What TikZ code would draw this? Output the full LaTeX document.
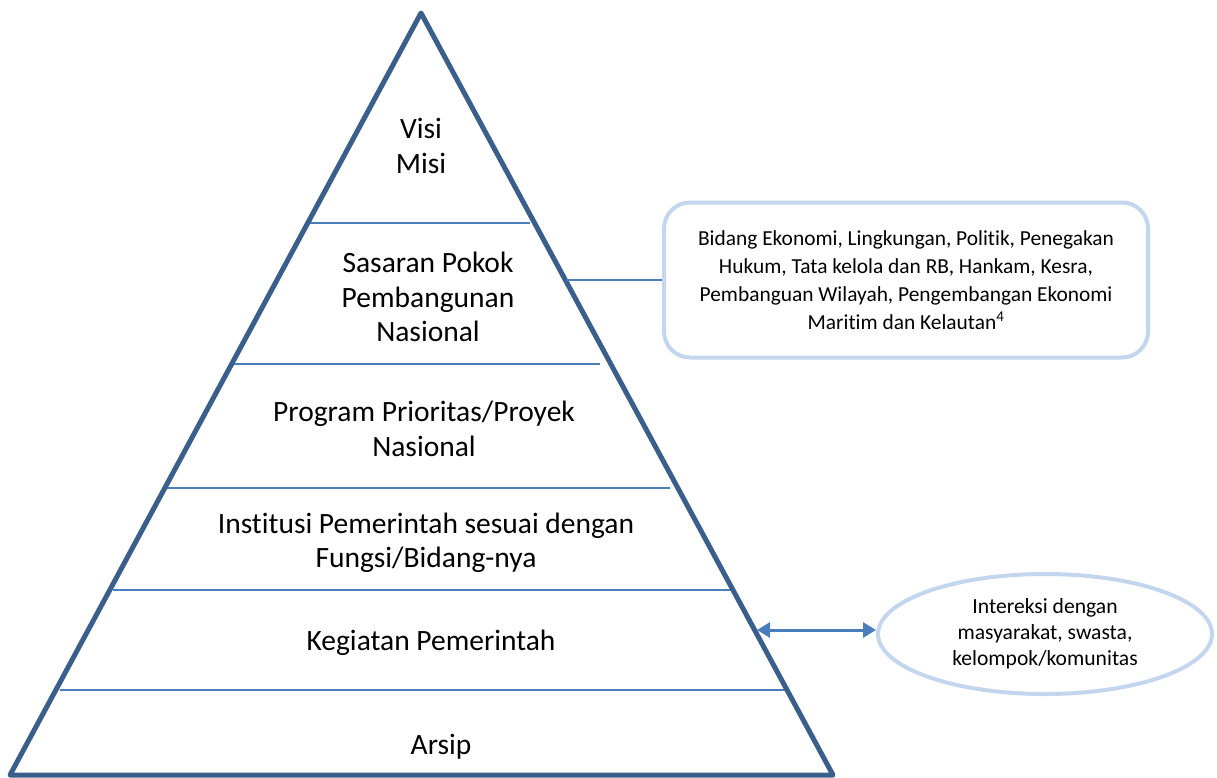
\documentclass[tikz,border=0pt]{standalone}
\usepackage{fontspec}
\setmainfont{Carlito}[RawFeature={-liga;-clig;-dlig;-calt}]
\usetikzlibrary{shapes.geometric,arrows.meta,calc}
\definecolor{pyrblue}{HTML}{3A5F8B}
\definecolor{tierblue}{HTML}{4A7EBB}
\definecolor{paleblue}{HTML}{C3D6EE}
\tikzset{
  pyramid/.style={draw=pyrblue,line width=5pt,line join=round},
  tier/.style={draw=tierblue,line width=2pt},
  tiertext/.style={align=center,font=\fontsize{29.5}{34.5}\selectfont,inner sep=0pt},
  notebox/.style={draw=paleblue,line width=4pt,rounded corners=26pt,
    minimum width=484pt,minimum height=155pt,align=center,
    font=\fontsize{21.4}{28}\selectfont},
  noteoval/.style={ellipse,draw=paleblue,line width=4pt,
    minimum width=334pt,minimum height=120pt,inner sep=0pt,align=center,
    font=\fontsize{21.6}{26}\selectfont},
  link/.style={draw=tierblue,line width=2pt},
  twoway/.style={draw=tierblue,line width=3pt,{Triangle[length=13pt,width=15pt]}-{Triangle[length=13pt,width=15pt]}}
}
\begin{document}
\begin{tikzpicture}[x=1pt,y=-1pt]
\useasboundingbox (0,0) rectangle (1217,777);
% pyramid outline
\coordinate (apex) at (421,13);
\coordinate (bl) at (10,775);
\coordinate (br) at (833,775);
% tier boundaries, left and right ends
\coordinate (t1l) at (305,223); \coordinate (t1r) at (530,223);
\coordinate (t2l) at (230,364); \coordinate (t2r) at (600,364);
\coordinate (t3l) at (165,488); \coordinate (t3r) at (670,488);
\coordinate (t4l) at (113,590); \coordinate (t4r) at (735,590);
\coordinate (t5l) at (60,690);  \coordinate (t5r) at (790,690);
\draw[tier] (t1l) -- (t1r);
\draw[tier] (t2l) -- (t2r);
\draw[tier] (t3l) -- (t3r);
\draw[tier] (t4l) -- (t4r);
\draw[tier] (t5l) -- (t5r);
\draw[pyramid] (bl) -- (apex) -- (br) -- cycle;
% tier labels
\node[tiertext] (visi) at (421,146) {Visi\\Misi};
\node[tiertext] (sasaran) at (428,297) {Sasaran Pokok\\Pembangunan\\Nasional};
\node[tiertext] (program) at (424,429) {Program Prioritas/Proyek\\Nasional};
\node[tiertext] (institusi) at (426,543) {Institusi Pemerintah sesuai dengan\\Fungsi/Bidang-nya};
\node[tiertext] (kegiatan) at (431,643) {Kegiatan Pemerintah};
\node[tiertext] (arsip) at (441,747) {Arsip};
% side notes
\node[notebox] (bidang) at (906,280) {Bidang Ekonomi, Lingkungan, Politik, Penegakan\\Hukum, Tata kelola dan RB, Hankam, Kesra,\\Pembanguan Wilayah, Pengembangan Ekonomi\\Maritim dan Kelautan\textsuperscript{4}};
\node[noteoval] (interaksi) at (1045,634) {Intereksi dengan\\masyarakat, swasta,\\kelompok/komunitas};
% connectors
\coordinate (sideA) at (566,280);
\coordinate (sideB) at (757,630);
\draw[link] (sideA) -- (bidang.west);
\draw[twoway] (sideB) -- (interaksi.west |- sideB);
\end{tikzpicture}
\end{document}
